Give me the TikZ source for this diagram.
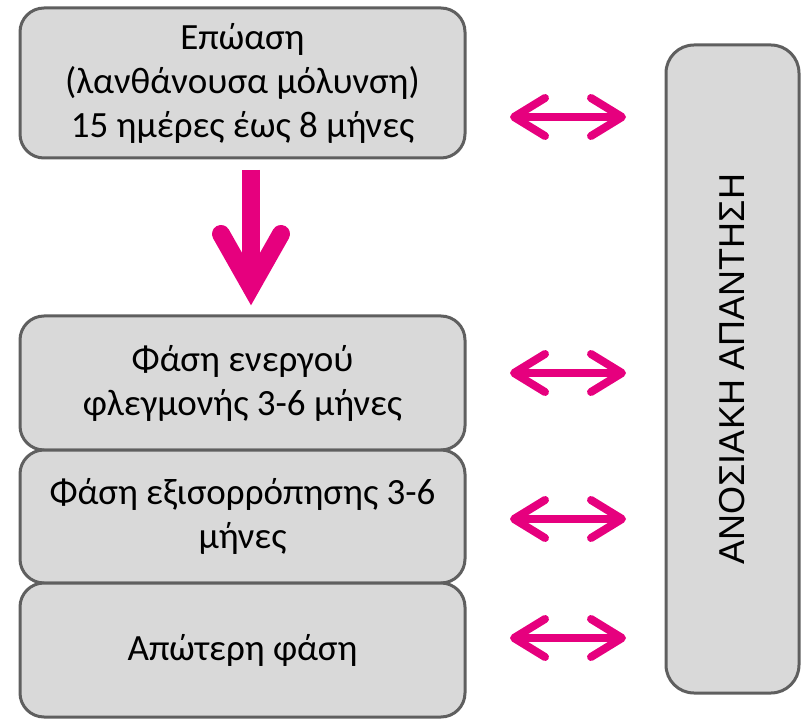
\documentclass[tikz,border=0pt]{standalone}
\usepackage{fontspec}
\setmainfont{Carlito}
\newfontfamily\arialfont{Liberation Sans}
\usetikzlibrary{arrows.meta}
\definecolor{boxfill}{HTML}{D9D9D9}
\definecolor{boxline}{HTML}{5F5F5F}
\definecolor{mag}{HTML}{E6007E}
\tikzset{
  phasebox/.style={draw=boxline, line width=3pt, fill=boxfill, rounded corners=24pt,
    minimum width=445pt, inner sep=0pt, align=center,
    font=\fontsize{37}{44}\selectfont},
  dblarrow/.style={draw=mag, line width=8pt, line cap=round,
    {Straight Barb[length=31pt,width=38pt,line width=8pt,round]}-{Straight Barb[length=31pt,width=38pt,line width=8pt,round]}},
  downshaft/.style={draw=mag, line width=18pt},
  downhead/.style={draw=mag, line width=18pt, line cap=round, line join=miter}
}
\begin{document}
\begin{tikzpicture}[x=1pt,y=-1pt]
\useasboundingbox (0,0) rectangle (801,719);
\node[phasebox, minimum height=150pt] (inc) at (242.5,83) {Επώαση\\(λανθάνουσα μόλυνση)\\15 ημέρες έως 8 μήνες};
\node[phasebox, minimum height=134pt] (act) at (242.5,383) {Φάση ενεργού\\φλεγμονής 3-6 μήνες};
\node[phasebox, minimum height=133pt] (bal) at (242.5,516.5) {Φάση εξισορρόπησης 3-6\\μήνες};
\node[phasebox, minimum height=134pt] (late) at (242.5,650) {Απώτερη φάση};
\node[draw=boxline, line width=3pt, fill=boxfill, rounded corners=28pt,
  minimum width=133pt, minimum height=648pt, inner sep=0pt] (imm) at (732.5,369) {};
\node[rotate=90, font=\arialfont\fontsize{36}{40}\selectfont] (immtxt) at (imm.center) {ΑΝΟΣΙΑΚΗ ΑΠΑΝΤΗΣΗ};
% double arrows
\foreach \n/\y in {a/117,b/373,c/519,d/638}{
  \coordinate (\n L) at (510,\y);
  \coordinate (\n R) at (626,\y);
  \draw[dblarrow] (\n L) -- (\n R);
}
% down arrow
\coordinate (dtop) at (251,170);
\coordinate (dtip) at (251,287);
\coordinate (dl) at (221,234);
\coordinate (dr) at (281,234);
\draw[downshaft] (dtop) -- (dtip);
\draw[downhead] (dl) -- (dtip) -- (dr);
\end{tikzpicture}
\end{document}
